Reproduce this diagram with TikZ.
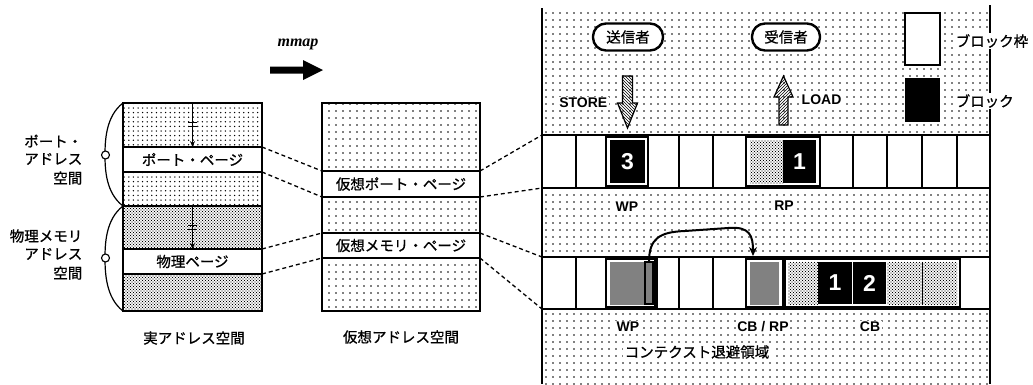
\documentclass[tikz,border=0pt]{standalone}
\usepackage{fontspec}
\newfontfamily\jp[FakeBold=0.9]{Noto Sans CJK JP}
\newfontfamily\hv{Liberation Sans}
\newfontfamily\tms{Liberation Serif}
\usetikzlibrary{patterns,arrows.meta}
\pgfdeclarepatternformonly{sparsedots}{\pgfpoint{-1pt}{-1pt}}{\pgfpoint{1pt}{1pt}}{\pgfpoint{7pt}{7pt}}{\pgfpathcircle{\pgfpoint{0pt}{0pt}}{0.8pt}\pgfusepath{fill}}
\pgfdeclarepatternformonly{middots}{\pgfpoint{-1pt}{-1pt}}{\pgfpoint{1pt}{1pt}}{\pgfpoint{4.6pt}{4.6pt}}{\pgfpathcircle{\pgfpoint{0pt}{0pt}}{0.75pt}\pgfusepath{fill}}
\pgfdeclarepatternformonly{densedots}{\pgfpoint{-1pt}{-1pt}}{\pgfpoint{4pt}{4pt}}{\pgfpoint{3pt}{3pt}}{\pgfpathcircle{\pgfpoint{0pt}{0pt}}{0.7pt}\pgfpathcircle{\pgfpoint{1.5pt}{1.5pt}}{0.7pt}\pgfusepath{fill}}
\pgfdeclarepatternformonly{darkdots}{\pgfpoint{-1pt}{-1pt}}{\pgfpoint{1pt}{1pt}}{\pgfpoint{2pt}{2pt}}{\pgfpathcircle{\pgfpoint{0pt}{0pt}}{0.85pt}\pgfusepath{fill}}
\begin{document}
\begin{tikzpicture}[x=1pt,y=-1pt,
  bord/.style={line width=1.8pt},
  dline/.style={dash pattern=on 4pt off 3pt, line width=1.3pt},
  jlab/.style={font=\jp\fontsize{14.5}{16}\selectfont, inner sep=1.5pt},
  elab/.style={font=\hv\bfseries\fontsize{14}{16}\selectfont, fill=white, inner sep=1.5pt},
  cellbox/.style={draw, fill=white, line width=1.8pt, outer sep=0pt, inner sep=0pt, font=\jp\fontsize{14.5}{16}\selectfont},
  ringrow/.style={fill=white, inner sep=0pt, outer sep=0pt, minimum width=448pt},
  pill/.style={draw, line width=2.4pt, rounded corners=13pt, fill=white, minimum height=27pt, inner sep=0pt, font=\jp\fontsize{14.5}{16}\selectfont},
  blk/.style={fill=black, text=white, inner sep=0pt, outer sep=0pt, font=\hv\bfseries\fontsize{23}{25}\selectfont},
  frameb/.style={draw, line width=1.3pt, fill=white},
  cellline/.style={line width=1.1pt},
  hatchdown/.style={draw, line width=1.2pt, pattern=north west lines},
  hatchup/.style={draw, line width=1.2pt, pattern=north east lines},
  ptr/.style={line width=1.1pt, -{Stealth[length=6pt,width=5pt]}},
  brace/.style={line width=1.2pt},
  ring/.style={circle, draw, fill=white, minimum size=8pt, inner sep=0pt, line width=1.1pt}
]
\useasboundingbox (0,0) rectangle (1033,384);

% ---------------- left: real address space
\fill[pattern=middots] (123,103) rectangle (262,147);
\fill[pattern=middots] (123,172) rectangle (262,206);
\fill[pattern=densedots] (123,206) rectangle (262,249);
\fill[pattern=densedots] (123,274) rectangle (262,311);
\node[cellbox, minimum width=139pt, minimum height=25pt] (pp) at (192.5,159.5) {ポート・ページ};
\node[cellbox, minimum width=139pt, minimum height=25pt] (phys) at (192.5,261.5) {物理ページ};
\draw[bord] (123,103) rectangle (262,311);
\draw[bord] (123,206) -- (262,206);

\coordinate (top1) at (192.5,104);
\coordinate (top2) at (192.5,207);
\draw[ptr] (top1) -- (pp.north);
\draw[ptr] (top2) -- (phys.north);
\draw[line width=1pt] (188,122) -- (197,122) (188,126) -- (197,126);
\draw[line width=1pt] (188,225) -- (197,225) (188,229) -- (197,229);

\draw[brace] (123,103) .. controls (106,116) and (105,140) .. (105,155) .. controls (105,170) and (106,193) .. (123,206);
\draw[brace] (123,206) .. controls (106,219) and (105,243) .. (105,258) .. controls (105,273) and (106,298) .. (123,311);
\node[ring] (c1) at (105.5,155) {};
\node[ring] (c2) at (105.5,258) {};

\node[jlab, anchor=east] (l1) at (84,141) {ポート・};
\node[jlab, anchor=east] (l2) at (84,159) {アドレス};
\node[jlab, anchor=east] (l3) at (84,178) {空間};
\node[jlab, anchor=east] (l4) at (84,236) {物理メモリ};
\node[jlab, anchor=east] (l5) at (84,254) {アドレス};
\node[jlab, anchor=east] (l6) at (84,273) {空間};
\node[jlab] (realL) at (194,338) {実アドレス空間};

% ---------------- mmap arrow
\node[font=\tms\bfseries\itshape\fontsize{16}{18}\selectfont, inner sep=0pt] (mm) at (298,44) {mmap};
\fill (270,66.5) -- (303,66.5) -- (303,60) -- (323,70) -- (303,80) -- (303,73.5) -- (270,73.5) -- cycle;

% ---------------- middle: virtual address space
\fill[pattern=sparsedots] (322,103) rectangle (480,311);
\node[cellbox, minimum width=158pt, minimum height=26pt] (vpp) at (401,184) {仮想ポート・ページ};
\node[cellbox, minimum width=158pt, minimum height=25pt] (vmp) at (401,245.5) {仮想メモリ・ページ};
\draw[bord] (322,103) rectangle (480,311);
\node[jlab] (virtL) at (401,337) {仮想アドレス空間};

% ---------------- right region
\fill[pattern=sparsedots] (542,8) rectangle (990,384);
\node[ringrow, minimum height=53pt] (ring1) at (766,161.5) {};
\node[ringrow, minimum height=52pt] (ring2) at (766,283) {};

% ring 1
\foreach \x in {576,606,648,679,713,746,820,853,887,922,957}
  \draw[cellline] (\x,135) -- (\x,188);
\draw[frameb] (606,137) rectangle (648,186);
\node[blk, minimum width=35pt, minimum height=43pt] (b3) at (627.5,161.5) {3};
\draw[frameb] (746,137) rectangle (820,186);
\fill[pattern=densedots] (750,140) rectangle (783,183);
\node[blk, minimum width=33pt, minimum height=43pt] (b1) at (799.5,161.5) {1};
\draw[bord] (ring1.north west) -- (ring1.north east);
\draw[bord] (ring1.south west) -- (ring1.south east);

% ring 2
\foreach \x in {576,606,657,679,713,746,960}
  \draw[cellline] (\x,257) -- (\x,309);
\draw[frameb] (606,259) rectangle (655,307);
\fill[pattern=darkdots] (610,262) rectangle (645,304);
\node[draw, line width=1.1pt, pattern=darkdots, minimum width=8pt, minimum height=42pt, inner sep=0pt, outer sep=0pt] (wpslim) at (649,283) {};
\draw[frameb] (746,259) rectangle (783,307);
\node[pattern=darkdots, minimum width=29pt, minimum height=42pt, inner sep=0pt] (cbrpblk) at (764.5,283) {};
\draw[frameb] (785,259) rectangle (960,307);
\fill[pattern=densedots] (788,262) rectangle (818,304);
\node[blk, minimum width=34pt, minimum height=42pt] (c1b) at (835,283) {1};
\node[blk, minimum width=33pt, minimum height=42pt] (c2b) at (869.5,283) {2};
\fill[pattern=densedots] (887,262) rectangle (957,304);
\draw[line width=0.8pt] (922,262) -- (922,304);
\draw[bord] (ring2.north west) -- (ring2.north east);
\draw[bord] (ring2.south west) -- (ring2.south east);

\coordinate (cbrpin) at (753,256);
\draw[line width=2pt, -{Stealth[length=9pt,width=8pt]}] (wpslim.north) .. controls (649,238) and (660,232) .. (685,231) -- (728,228) .. controls (750,226) and (753,236) .. (cbrpin);

% borders
\draw[bord] (542,8) -- (542,384);
\draw[bord] (990,5) -- (990,384);

% senders / receivers
\node[pill, minimum width=70pt] (snd) at (628,37) {送信者};
\node[pill, minimum width=68pt] (rcv) at (786,37) {受信者};
\path[hatchdown] (622.5,76) -- (632.5,76) -- (632.5,103) -- (637.5,103) -- (627.5,128) -- (617.5,103) -- (622.5,103) -- cycle;
\path[hatchup] (779,125) -- (788,125) -- (788,97) -- (793,97) -- (783.5,76) -- (774,97) -- (779,97) -- cycle;
\node[elab, anchor=east] (store) at (609,103) {STORE};
\node[elab, anchor=west] (load) at (800,100) {LOAD};

% labels
\node[elab] (wp1) at (627,207) {WP};
\node[elab] (rp1) at (784,206) {RP};
\node[elab] (wp2) at (628,327) {WP};
\node[elab] (cbrp) at (763,327) {CB / RP};
\node[elab] (cb) at (870,327) {CB};
\node[jlab, fill=white] (ctx) at (697,352) {コンテクスト退避領域};

% legend
\node[draw, line width=2.4pt, fill=white, minimum width=35pt, minimum height=52pt, inner sep=0pt] (lgframe) at (922.5,39) {};
\node[fill=black, minimum width=35pt, minimum height=44pt, inner sep=0pt] (lgblk) at (922.5,100) {};
\node[jlab, fill=white, anchor=west] (lgt1) at (954,41) {ブロック枠};
\node[jlab, fill=white, anchor=west] (lgt2) at (954,101) {ブロック};

% dashed mapping lines
\draw[dline] (pp.north east) -- (vpp.north west);
\draw[dline] (pp.south east) -- (vpp.south west);
\draw[dline] (phys.north east) -- (vmp.north west);
\draw[dline] (phys.south east) -- (vmp.south west);
\draw[dline] (vpp.north east) -- (ring1.north west);
\draw[dline] (vpp.south east) -- (ring1.south west);
\draw[dline] (vmp.north east) -- (ring2.north west);
\draw[dline] (vmp.south east) -- (ring2.south west);
\end{tikzpicture}
\end{document}
